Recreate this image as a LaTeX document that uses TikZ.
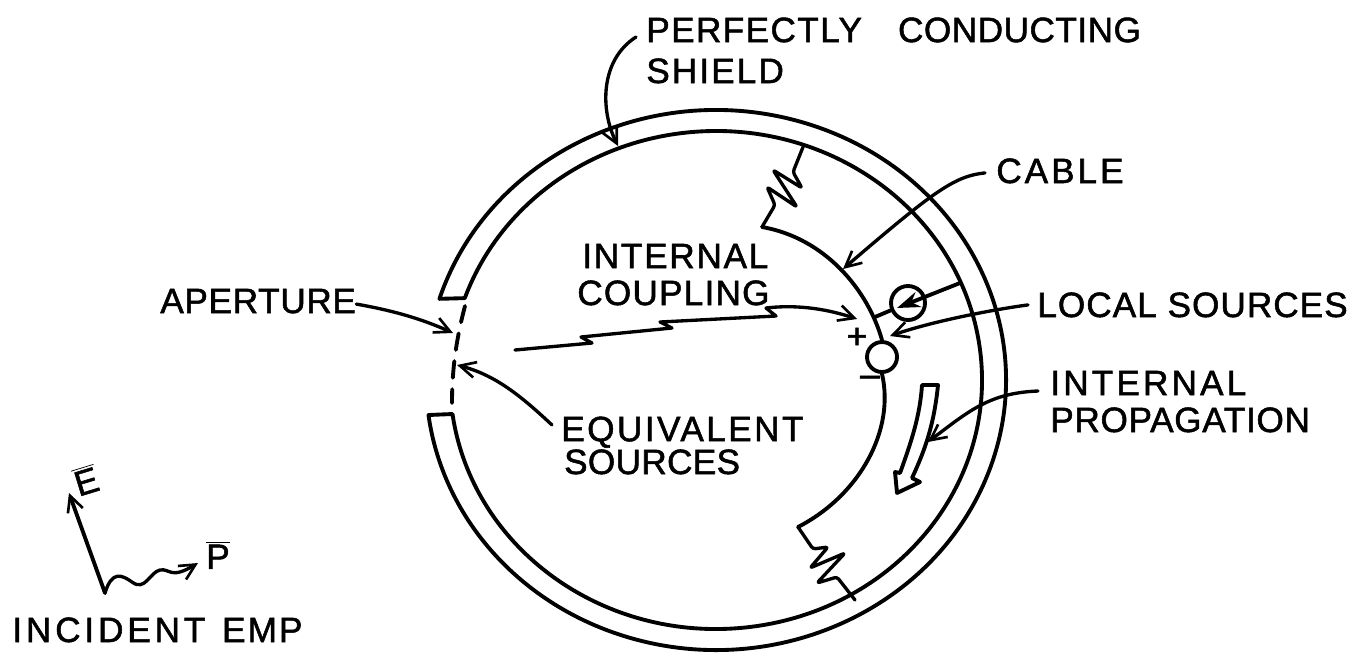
\documentclass[tikz,border=0pt]{standalone}
\usepackage{fontspec}
\setmainfont{Liberation Sans}[FakeBold=1.5]
\usetikzlibrary{arrows.meta, calc}
\newcommand{\trk}[2]{{\addfontfeature{LetterSpace=#1}#2}}
\tikzset{
  label text/.style={anchor=base west, inner sep=0pt, font=\fontsize{20}{21}\selectfont, align=left},
  ink/.style={line width=2.2pt, line cap=round, line join=round},
  thin ink/.style={line width=1.9pt, line cap=round, line join=round},
  pointer/.style={thin ink, -{Straight Barb[length=9pt,width=9pt,line width=1.5pt]}},
  source/.style={draw, circle, line width=2.2pt, inner sep=0pt}
}
\begin{document}
\begin{tikzpicture}[x=0.02cm, y=0.02cm]
  \useasboundingbox (0,0) rectangle (1365,-664);

  % shield
  \coordinate (c) at (716,-380);
  \draw[ink, shift={(c)}] (162.5:290 and 270)
    arc[start angle=162.5, end angle=-172.55, x radius=290, y radius=270]
    -- (187.85:266 and 249)
    arc[start angle=-172.15, end angle=160.8, x radius=266, y radius=249]
    -- cycle;

  % aperture
  \coordinate (ap1) at (465,-306);
  \coordinate (ap2) at (452,-403);
  \draw[ink, dash pattern=on 9.5pt off 6.5pt] (ap1) .. controls (456,-340) and (452,-370) .. (ap2);

  % sources
  \node[source, minimum size=30*0.02cm] (vs) at (882,-357) {};
  \node[source, minimum size=34*0.02cm] (ls) at (908,-303) {};
  \node[font=\fontsize{20}{20}\selectfont, inner sep=0pt] (plus) at (857,-338) {+};
  \node[font=\fontsize{20}{20}\selectfont, inner sep=0pt] (minus) at (870,-381) {--};

  % cable and loads
  \coordinate (rt) at (762,-227);
  \coordinate (rb) at (798,-527);
  \coordinate (st) at (803,-147);
  \coordinate (sb) at (855,-600);
  \draw[ink] (rt) .. controls (825,-238) and (868,-290) .. (vs.north);
  \draw[ink] (vs.south) .. controls (895,-430) and (860,-495) .. (rb);
  \draw[thin ink, rounded corners=1.5pt] (st) -- (793,-172) -- (802,-188) -- (773,-170) -- (797,-207) -- (767,-187) -- (775,-205) -- (rt);
  \draw[thin ink, rounded corners=1.5pt] (rb) -- (813,-549) -- (828,-547) -- (810,-568) -- (845,-553) -- (817,-583) -- (837,-577) -- (sb);

  % series source line
  \coordinate (la) at (875,-317);
  \coordinate (lb) at (960,-283);
  \coordinate (lt) at (897,-308);
  \draw[ink] (la) -- (ls);
  \draw[ink, -{Stealth[length=13pt,width=9pt]}] (lb) -- (lt);

  % propagation arrow
  \draw[ink] (922,-385) -- (938,-385) .. controls (934,-425) and (925,-450) .. (912,-478)
    -- (920,-482) -- (897,-493) -- (895,-472) -- (900,-473) .. controls (912,-440) and (920,-415) .. (922,-385);

  % Labels
  \node[label text] (shield) at (646,-83) {\trk{4}{PERFECTLY}\hspace{0.75em} \trk{1.5}{CONDUCTING}\\[2.3pt]\trk{6}{SHIELD}};
  \node[label text] (cable) at (996,-183) {\trk{8.5}{CABLE}};
  \node[label text] (coupling) at (577,-305) {\hspace{7\pgflinewidth}\trk{5}{INTERNAL}\\\trk{3.5}{COUPLING}};
  \node[label text] (local) at (1037,-317) {\trk{3}{LOCAL SOURCES}};
  \node[label text] (aperture) at (160,-313) {\trk{2}{APERTURE}};
  \node[label text] (prop) at (1050,-432) {\trk{9}{INTERNAL}\\\trk{2}{PROPAGATION}};
  \node[label text] (equiv) at (561,-474) {\trk{7}{EQUIVALENT}\\[-2.3pt]\hspace{4\pgflinewidth}\trk{1}{SOURCES}};
  \node[label text] (emp) at (12,-642) {\trk{11}{INCIDENT}\hspace{0.2em} \trk{6}{EMP}};

  % pointers
  \coordinate (shieldfoot) at (636,-37);
  \coordinate (shieldtip) at (618,-146);
  \coordinate (cabletip) at (843,-269);
  \coordinate (localtip) at (890,-336);
  \coordinate (aptip) at (453,-333);
  \coordinate (equivfoot) at (552,-425);
  \coordinate (equivtip) at (457,-365);
  \coordinate (couptip) at (857,-319);
  \coordinate (propfoot) at (1038,-391);
  \coordinate (proptip) at (928,-442);
  \draw[pointer] (shieldfoot) .. controls (600,-60) and (600,-110) .. (shieldtip);
  \draw[pointer] (cable.west) ++(-11,-2) .. controls (955,-176) and (935,-190) .. (cabletip);
  \draw[pointer] (local.west) ++(-9,0) .. controls (990,-310) and (930,-322) .. (localtip);
  \draw[pointer] (aperture.east) ++(0,-3) .. controls (390,-310) and (420,-318) .. (aptip);
  \draw[pointer] (equivfoot) .. controls (520,-395) and (495,-375) .. (equivtip);
  \draw[pointer] (propfoot) .. controls (990,-393) and (970,-410) .. (proptip);
  \draw[thin ink] (515,-350) -- (592,-343) -- (581,-337) -- (672,-328) -- (660,-322) -- (776,-316) -- (766,-308);
  \draw[pointer] (766,-308) .. controls (800,-304) and (830,-310) .. (couptip);

  % incident field
  \coordinate (o) at (105,-593);
  \coordinate (etip) at (69,-493);
  \coordinate (ptip) at (198,-563);
  \node[label text, anchor=center, rotate=17] (ebar) at (86,-480) {$\overline{\mbox{E}}$};
  \node[label text, anchor=center] (pbar) at (218,-555) {$\overline{\mbox{P}}$};
  \draw[ink, -{Straight Barb[length=9pt,width=9pt,line width=1.5pt]}] (o) -- (etip);
  \draw[pointer] (o) .. controls (112,-570) and (122,-575) .. (132,-582) .. controls (145,-592) and (150,-572) .. (160,-570) .. controls (170,-568) and (170,-580) .. (ptip);
\end{tikzpicture}
\end{document}
